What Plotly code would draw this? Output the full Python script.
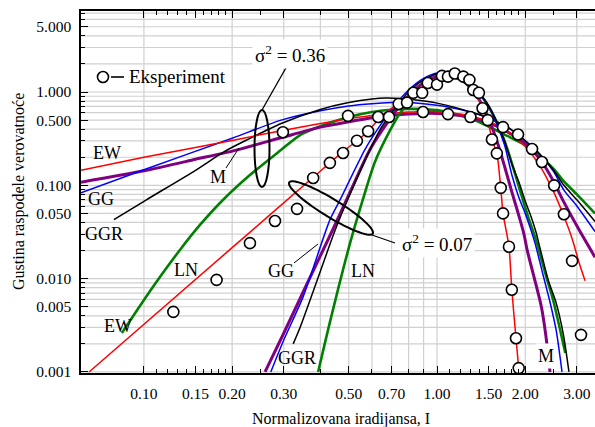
import math
import plotly.graph_objects as go

# ---------------- data ----------------
X_TICKS = [0.10, 0.15, 0.20, 0.30, 0.50, 0.70, 1.00, 1.50, 2.00, 3.00]
X_LABELS = ["0.10", "0.15", "0.20", "0.30", "0.50", "0.70", "1.00", "1.50", "2.00", "3.00"]
Y_TICKS = [0.001, 0.005, 0.010, 0.050, 0.100, 0.500, 1.000, 5.000]
Y_LABELS = ["0.001", "0.005", "0.010", "0.050", "0.100", "0.500", "1.000", "5.000"]
X_MINOR = [0.11, 0.12, 0.13, 0.14, 0.16, 0.17, 0.18, 0.19, 0.25, 0.4, 0.6, 0.8, 0.9,
           1.1, 1.2, 1.3, 1.4, 1.6, 1.7, 1.8, 1.9, 2.5]
Y_MINOR = [d * 10 ** k for k in (-3, -2, -1, 0) for d in (2, 3, 4, 6, 7, 8, 9) if d * 10 ** k < 7.3]
GRID_X = [0.1, 0.2, 0.3, 0.4, 0.5, 0.6, 0.7, 0.8, 0.9, 1.0, 2.0, 3.0]
GRID_Y = [d * 10 ** k for k in (-3, -2, -1, 0) for d in range(1, 10) if d * 10 ** k < 7.3]

# experiment, sigma^2 = 0.07 (narrow)
exp07_x = [0.126, 0.177, 0.230, 0.280, 0.333, 0.378, 0.431, 0.478, 0.533, 0.582, 0.630, 0.686,
           0.740, 0.790, 0.830, 0.890, 0.930, 1.000, 1.040, 1.090, 1.150, 1.230, 1.290, 1.330,
           1.390, 1.430, 1.490, 1.540, 1.600, 1.650, 1.680, 1.760, 1.800, 1.860, 1.900]
exp07_y = [0.0044, 0.0097, 0.024, 0.0415, 0.056, 0.12, 0.174, 0.222, 0.30, 0.38, 0.54, 0.54,
           0.745, 0.77, 0.98, 0.98, 1.25, 1.20, 1.49, 1.46, 1.58, 1.46, 1.35, 1.05,
           0.98, 0.67, 0.50, 0.31, 0.22, 0.094, 0.05, 0.022, 0.0076, 0.0023, 0.0011]
# experiment, sigma^2 = 0.36 (broad)
exp36_x = [0.298, 0.497, 0.896, 1.09, 1.30, 1.68, 1.89, 2.11, 2.28, 2.51, 2.71, 2.89, 3.10]
exp36_y = [0.37, 0.555, 0.61, 0.58, 0.54, 0.42, 0.35, 0.245, 0.178, 0.10, 0.049, 0.0155, 0.0025]

# model curves, sigma^2 = 0.36
ew36_x = [0.061, 0.1, 0.15, 0.208, 0.3, 0.4, 0.5, 0.6, 0.7, 0.8, 0.9, 1.0, 1.2, 1.4, 1.6, 1.8,
          2.0, 2.25, 2.5, 2.7, 2.9, 3.05, 3.2]
ew36_y = [0.145, 0.2, 0.255, 0.31, 0.39, 0.46, 0.52, 0.56, 0.59, 0.61, 0.62, 0.615, 0.58, 0.52,
          0.44, 0.35, 0.26, 0.16, 0.085, 0.048, 0.026, 0.015, 0.0095]
m36_x = [0.061, 0.1, 0.15, 0.208, 0.3, 0.4, 0.5, 0.6, 0.7, 0.8, 0.9, 1.0, 1.2, 1.4, 1.6,
         1.8, 2.0, 2.25, 2.5, 2.71, 3.06, 3.46]
m36_y = [0.108, 0.143, 0.19, 0.24, 0.33, 0.42, 0.48, 0.53, 0.56, 0.58, 0.59, 0.59, 0.56,
         0.5, 0.43, 0.35, 0.28, 0.19, 0.11, 0.066, 0.033, 0.017]
gg36_x = [0.061, 0.1, 0.2, 0.294, 0.4, 0.5, 0.6, 0.7, 0.8, 0.9, 1.0, 1.2, 1.4, 1.6, 1.8,
          2.0, 2.2, 2.5, 2.71, 3.0, 3.46]
gg36_y = [0.083, 0.147, 0.32, 0.50, 0.63, 0.71, 0.75, 0.77, 0.77, 0.75, 0.72, 0.65, 0.57,
          0.48, 0.39, 0.30, 0.23, 0.14, 0.089, 0.06, 0.032]
ggr36_x = [0.079, 0.102, 0.15, 0.188, 0.226, 0.294, 0.4, 0.5, 0.6, 0.67, 0.75, 0.85, 1.0,
           1.2, 1.4, 1.6, 1.8, 2.0, 2.2, 2.5, 2.71, 3.0, 3.46]
ggr36_y = [0.043, 0.07, 0.145, 0.23, 0.31, 0.46, 0.65, 0.77, 0.84, 0.86, 0.85, 0.82, 0.76,
           0.66, 0.57, 0.48, 0.39, 0.30, 0.23, 0.145, 0.10, 0.07, 0.041]
ln36_x = [0.0841, 0.0969, 0.1134, 0.1327, 0.1553, 0.186, 0.230, 0.2935, 0.341, 0.4, 0.5, 0.6,
          0.7, 0.8, 0.9, 1.0, 1.29, 1.47, 1.7, 2.0, 2.13, 2.5, 2.71, 3.0, 3.46]
ln36_y = [0.00262, 0.0051, 0.0104, 0.0203, 0.0376, 0.0697, 0.129, 0.239, 0.346, 0.43, 0.54,
          0.61, 0.645, 0.66, 0.655, 0.64, 0.53, 0.44, 0.35, 0.27, 0.24, 0.15, 0.11, 0.08, 0.05]

# model curves, sigma^2 = 0.07
red07_x = [0.065, 0.2, 0.378, 0.478, 0.533, 0.582, 0.65, 0.74, 0.83, 0.93, 1.04, 1.15, 1.25,
           1.33, 1.43, 1.49, 1.54, 1.60, 1.65, 1.68, 1.76, 1.80, 1.86, 1.90]
red07_y = [0.001, 0.0215, 0.122, 0.23, 0.30, 0.38, 0.56, 0.76, 0.98, 1.22, 1.45, 1.55, 1.42,
           1.1, 0.67, 0.5, 0.31, 0.22, 0.094, 0.05, 0.022, 0.0076, 0.0023, 0.0011]
gg07_x = [0.271, 0.3, 0.35, 0.431, 0.467, 0.567, 0.624, 0.7, 0.8, 0.9, 1.0, 1.1, 1.2, 1.3, 1.4,
          1.5, 1.6, 1.7, 1.8, 1.9, 2.0, 2.08, 2.16, 2.3, 2.42, 2.55, 2.67]
gg07_y = [0.001, 0.0022, 0.0065, 0.0426, 0.07, 0.24, 0.39, 0.65, 1.05, 1.4, 1.6, 1.58, 1.45,
          1.22, 0.95, 0.7, 0.45, 0.27, 0.13, 0.075, 0.05, 0.035, 0.024, 0.011, 0.0059, 0.0028,
          0.001]
m07_x = [0.259, 0.3, 0.35, 0.44, 0.5, 0.59, 0.65, 0.75, 0.85, 0.95, 1.05, 1.15, 1.25, 1.35,
         1.43, 1.5, 1.6, 1.7, 1.8, 1.9, 1.98, 2.03, 2.15, 2.27, 2.35, 2.43]
m07_y = [0.001, 0.0026, 0.0073, 0.033, 0.079, 0.24, 0.39, 0.72, 1.1, 1.38, 1.5, 1.45, 1.25,
         0.95, 0.72, 0.52, 0.3, 0.16, 0.085, 0.048, 0.03, 0.0203, 0.01, 0.005, 0.0025, 0.001]
ggr07_x = [0.323, 0.341, 0.4, 0.449, 0.5, 0.638, 0.7, 0.8, 0.9, 1.0, 1.1, 1.2, 1.3, 1.4, 1.5,
           1.6, 1.7, 1.8, 1.9, 2.0, 2.1, 2.18, 2.24, 2.4, 2.55, 2.7, 2.82]
ggr07_y = [0.002, 0.003, 0.012, 0.033, 0.075, 0.39, 0.6, 1.0, 1.35, 1.55, 1.55, 1.42, 1.2,
           0.95, 0.72, 0.48, 0.3, 0.17, 0.11, 0.068, 0.045, 0.031, 0.022, 0.0095, 0.0055,
           0.0025, 0.001]
ln07_x = [0.393, 0.431, 0.505, 0.558, 0.614, 0.692, 0.75, 0.85, 0.95, 1.05, 1.15, 1.25, 1.35,
          1.45, 1.55, 1.65, 1.75, 1.85, 1.95, 2.05, 2.16, 2.21, 2.35, 2.49, 2.62, 2.74]
ln07_y = [0.001, 0.0034, 0.024, 0.07, 0.178, 0.39, 0.6, 0.95, 1.25, 1.42, 1.45, 1.32, 1.08,
          0.82, 0.58, 0.38, 0.23, 0.13, 0.075, 0.045, 0.028, 0.022, 0.011, 0.0059, 0.003,
          0.0016]

# ---------------- layout geometry (pixels) ----------------
W, H = 595, 427
L, R, T, B = 81, 595, 11, 373


def px(xp):
    return (xp - L) / (R - L)


def py(yp):
    return (B - yp) / (B - T)


RED, BLUE, BLACK, PURPLE, GREEN = "#ff0000", "#0000ff", "#000000", "#800080", "#008000"
FONT = "Liberation Serif"

fig = go.Figure()


def curve(x, y, color, width):
    fig.add_trace(go.Scatter(x=x, y=y, mode="lines", showlegend=False, hoverinfo="skip",
                             line=dict(color=color, width=width, shape="spline", smoothing=0.7)))


curve(ln36_x, ln36_y, GREEN, 2.6)
curve(m36_x, m36_y, PURPLE, 3.0)
curve(gg36_x, gg36_y, BLUE, 1.5)
curve(ggr36_x, ggr36_y, BLACK, 1.5)
curve(ew36_x, ew36_y, RED, 1.5)
curve(ln07_x, ln07_y, GREEN, 2.6)
curve(m07_x, m07_y, PURPLE, 3.0)
curve(gg07_x, gg07_y, BLUE, 1.5)
curve(ggr07_x, ggr07_y, BLACK, 1.5)
curve(red07_x, red07_y, RED, 1.5)

for ex, ey in ((exp07_x, exp07_y), (exp36_x, exp36_y)):
    fig.add_trace(go.Scatter(x=ex, y=ey, mode="markers", showlegend=False, hoverinfo="skip",
                             marker=dict(symbol="circle", size=11, color="white",
                                         line=dict(color="black", width=1.6))))

shapes = []
for gx in GRID_X:
    shapes.append(dict(type="line", xref="x", yref="paper", x0=gx, x1=gx, y0=0, y1=1,
                       layer="below", line=dict(color="#d0d0d0", width=1.2)))
for gy in GRID_Y:
    shapes.append(dict(type="line", xref="paper", yref="y", x0=0, x1=1, y0=gy, y1=gy,
                       layer="below", line=dict(color="#d0d0d0", width=1.2)))

# legend symbol
shapes.append(dict(type="circle", xref="paper", yref="paper", x0=px(97.5), x1=px(108.5),
                   y0=py(82.5), y1=py(71.5), fillcolor="white", line=dict(color="black", width=1.6)))
shapes.append(dict(type="line", xref="paper", yref="paper", x0=px(111), x1=px(124),
                   y0=py(77), y1=py(77), line=dict(color="black", width=1.6)))

# ellipse sigma^2 = 0.36
shapes.append(dict(type="circle", xref="paper", yref="paper", x0=px(254.5), x1=px(269.5),
                   y0=py(187), y1=py(110), line=dict(color="black", width=2)))
shapes.append(dict(type="line", xref="paper", yref="paper", x0=px(262), y0=py(110),
                   x1=px(287), y1=py(66), line=dict(color="black", width=1.3)))

# tilted ellipse sigma^2 = 0.07
cx, cy, a, b, th = 331, 208, 49, 9, math.radians(31.5)
pts = []
for i in range(73):
    t = 2 * math.pi * i / 72
    ex_ = cx + a * math.cos(t) * math.cos(th) - b * math.sin(t) * math.sin(th)
    ey_ = cy + a * math.cos(t) * math.sin(th) + b * math.sin(t) * math.cos(th)
    pts.append((px(ex_), py(ey_)))
path = "M " + " L ".join(f"{u:.5f},{v:.5f}" for u, v in pts) + " Z"
shapes.append(dict(type="path", xref="paper", yref="paper", path=path,
                   line=dict(color="black", width=2)))
shapes.append(dict(type="line", xref="paper", yref="paper", x0=px(372), y0=py(235),
                   x1=px(395), y1=py(243), line=dict(color="black", width=1.3)))

# leader lines for labels
shapes.append(dict(type="line", xref="paper", yref="paper", x0=px(226), y0=py(168),
                   x1=px(239), y1=py(148), line=dict(color="black", width=1)))
shapes.append(dict(type="line", xref="paper", yref="paper", x0=px(294), y0=py(263),
                   x1=px(318), y1=py(244), line=dict(color="black", width=1)))

annotations = []


def label(text, xc, yc, size=18, bg=None):
    d = dict(text=text, xref="paper", yref="paper", x=px(xc), y=py(yc), showarrow=False,
             xanchor="center", yanchor="middle", font=dict(family=FONT, size=size, color="black"))
    if bg:
        d.update(bgcolor=bg, borderpad=2)
    annotations.append(d)


label("EW", 107, 153)
label("GG", 101, 199)
label("GGR", 104, 234)
label("M", 218, 177)
label("LN", 186, 270)
label("EW", 118, 326)
label("GG", 281, 271)
label("GGR", 297, 358)
label("LN", 363, 271)
label("M", 546, 356, bg="white")
label("σ<sup>2</sup> = 0.36", 290, 54, size=19, bg="white")
label("σ<sup>2</sup> = 0.07", 437, 243, size=19, bg="white")
annotations.append(dict(text="Eksperiment", xref="paper", yref="paper", x=px(127), y=py(77),
                        xanchor="left", yanchor="middle", showarrow=False,
                        font=dict(family=FONT, size=19, color="black")))
annotations.append(dict(text="Gustina raspodele verovatnoće", xref="paper", yref="paper",
                        x=px(19), y=0.5, textangle=-90, xanchor="center", yanchor="middle",
                        showarrow=False, font=dict(family=FONT, size=16, color="black")))
annotations.append(dict(text="Normalizovana iradijansa, I", xref="paper", yref="paper",
                        x=px(341), y=py(418.5), xanchor="center", yanchor="middle",
                        showarrow=False, font=dict(family=FONT, size=16, color="black")))

fig.update_layout(
    width=W, height=H, margin=dict(l=L, r=W - R, t=T, b=H - B, autoexpand=False),
    paper_bgcolor="white", plot_bgcolor="white", showlegend=False,
    shapes=shapes, annotations=annotations,
    font=dict(family=FONT, color="black"),
    xaxis=dict(type="log", range=[math.log10(0.061), math.log10(3.46)], automargin=False,
               tickvals=X_TICKS, ticktext=X_LABELS, ticks="inside", ticklen=7, tickwidth=1.2,
               tickcolor="black", showline=True, linecolor="black", linewidth=1.5,
               mirror="ticks", showgrid=False, zeroline=False, ticklabelstandoff=6,
               tickfont=dict(family=FONT, size=15.5, color="black"),
               minor=dict(tickvals=X_MINOR, ticks="inside", ticklen=4, tickcolor="black",
                          showgrid=False)),
    yaxis=dict(type="log", range=[-3.011, 0.868], automargin=False,
               tickvals=Y_TICKS, ticktext=Y_LABELS, ticks="inside", ticklen=7, tickwidth=1.2,
               tickcolor="black", showline=True, linecolor="black", linewidth=1.5,
               showgrid=False, zeroline=False, ticklabelstandoff=5,
               tickfont=dict(family=FONT, size=15.5, color="black"),
               minor=dict(tickvals=Y_MINOR, ticks="inside", ticklen=4, tickcolor="black",
                          showgrid=False)),
)

fig.write_html("out.html", config={"displayModeBar": False},
               post_script="document.body.style.margin='0px';document.body.style.padding='0px';")
